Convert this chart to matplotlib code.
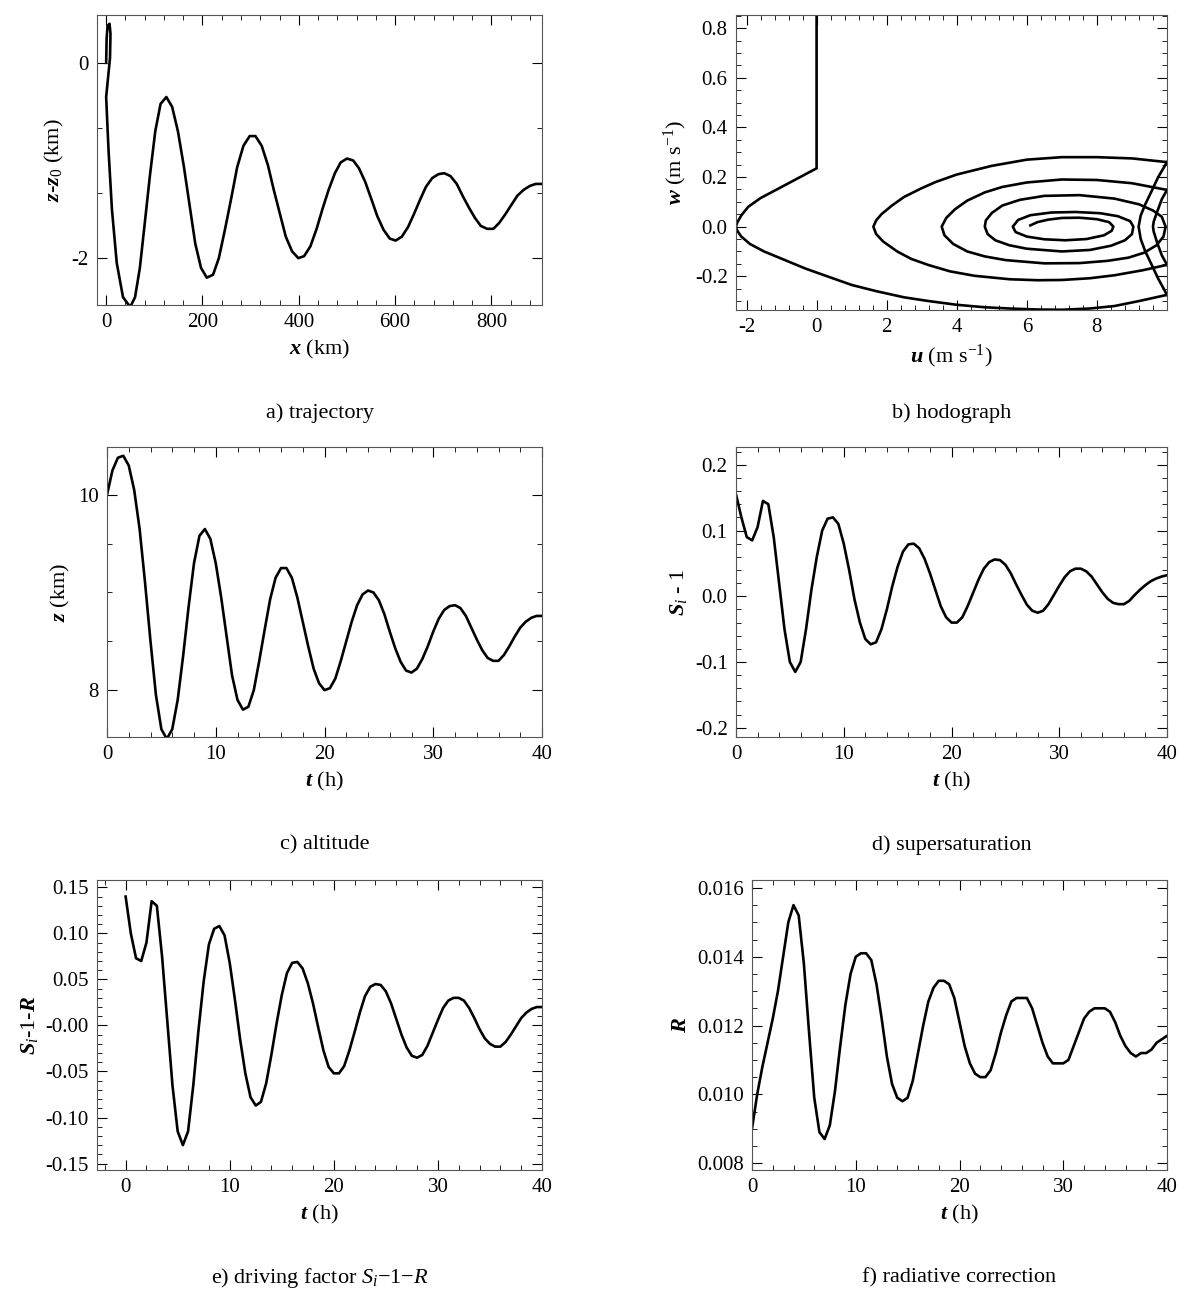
import numpy as np
import matplotlib
matplotlib.use("Agg")
import matplotlib.pyplot as plt
from matplotlib.ticker import FixedLocator, FixedFormatter, AutoMinorLocator

plt.rcParams['font.family'] = 'Liberation Serif'
plt.rcParams['mathtext.fontset'] = 'custom'
plt.rcParams['mathtext.rm'] = 'Liberation Serif'
plt.rcParams['mathtext.it'] = 'Liberation Serif:italic'
plt.rcParams['mathtext.bf'] = 'Liberation Serif:bold'
plt.rcParams['mathtext.bfit'] = 'Liberation Serif:bold:italic'
plt.rcParams['axes.unicode_minus'] = False

# time axis (h), sampled every 0.5 h
t_h = [i * 0.5 for i in range(81)]

# altitude z (km)
z_km = [10.0, 10.25, 10.38, 10.4, 10.3, 10.05, 9.65, 9.1, 8.5, 7.95, 7.6, 7.5, 7.6, 7.9, 8.35, 8.85,
        9.3, 9.58, 9.65, 9.55, 9.3, 8.95, 8.55, 8.15, 7.9, 7.8, 7.83, 8.0, 8.3, 8.62, 8.93, 9.15,
        9.25, 9.25, 9.15, 8.95, 8.7, 8.45, 8.22, 8.07, 8.0, 8.02, 8.12, 8.3, 8.5, 8.7, 8.87, 8.98,
        9.02, 9.0, 8.92, 8.78, 8.6, 8.43, 8.29, 8.2, 8.18, 8.22, 8.32, 8.45, 8.6, 8.73, 8.82, 8.86,
        8.87, 8.84, 8.76, 8.64, 8.52, 8.41, 8.33, 8.3, 8.3, 8.36, 8.45, 8.55, 8.64, 8.7, 8.74, 8.76, 8.76]
z0_km = 10.0

# horizontal distance x (km) at the same times
x_km = [0, 1, 3, 7, 9, 8, 0, 5, 12, 22, 35, 50, 60, 70, 80, 91, 102, 113, 125, 137, 149, 161, 173, 185,
        197, 209, 222, 234, 247, 260, 272, 285, 298, 310, 323, 336, 348, 361, 373, 386, 399, 411, 424,
        437, 449, 462, 475, 487, 500, 513, 525, 538, 551, 563, 576, 589, 601, 614, 627, 639, 652, 664,
        677, 690, 702, 715, 728, 740, 753, 766, 778, 791, 804, 816, 829, 842, 854, 867, 880, 892, 905]

# supersaturation Si - 1
si_m1 = [.155, .12, .09, .085, .105, .145, .14, .09, .02, -.05, -.1, -.115, -.1, -.05, .01, .06, .1, .118,
         .12, .11, .08, .04, -.005, -.04, -.065, -.073, -.07, -.05, -.02, .015, .045, .068, .079, .08,
         .073, .057, .035, .01, -.015, -.032, -.04, -.04, -.032, -.015, .005, .025, .042, .052, .056,
         .055, .048, .035, .018, .002, -.013, -.022, -.025, -.022, -.012, .002, .016, .029, .038, .042,
         .042, .038, .03, .018, .006, -.004, -.01, -.012, -.012, -.007, .002, .01, .017, .023, .027, .03, .032]

# driving factor Si - 1 - R
drive = [.14, .1, .073, .07, .09, .135, .13, .075, .005, -.065, -.115, -.13, -.115, -.065, -.005, .048,
         .088, .105, .108, .098, .068, .028, -.015, -.052, -.078, -.087, -.083, -.063, -.032, .002, .033,
         .057, .068, .069, .062, .046, .024, -.002, -.027, -.045, -.052, -.052, -.044, -.027, -.007, .014,
         .032, .042, .045, .044, .037, .024, .007, -.01, -.024, -.033, -.035, -.032, -.022, -.008, .006,
         .019, .027, .03, .03, .027, .019, .008, -.004, -.014, -.02, -.023, -.023, -.018, -.01, -.001,
         .008, .014, .018, .02, .02]

# radiative correction R
rad_R = [.0090, .0100, .0108, .0115, .0122, .0130, .0140, .0150, .0155, .0152, .0138, .0118, .0099, .0089,
         .0087, .0091, .0101, .0114, .0126, .0135, .0140, .0141, .0141, .0139, .0132, .0122, .0111, .0103,
         .0099, .0098, .0099, .0104, .0112, .0120, .0127, .0131, .0133, .0133, .0132, .0128, .0121, .0114,
         .0109, .0106, .0105, .0105, .0107, .0112, .0118, .0123, .0127, .0128, .0128, .0128, .0125, .0120,
         .0115, .0111, .0109, .0109, .0109, .0110, .0114, .0118, .0122, .0124, .0125, .0125, .0125, .0124,
         .0121, .0117, .0114, .0112, .0111, .0112, .0112, .0113, .0115, .0116, .0117]

# hodograph pieces (u, w) in m/s
hodo_start = [(0, 0.85), (0, 0.235), (-1.0, 0.16), (-1.6, 0.115), (-1.95, 0.08), (-2.15, 0.045),
              (-2.27, 0.015), (-2.3, 0), (-2.27, -0.015), (-2.15, -0.04), (-1.9, -0.07), (-1.5, -0.1),
              (-0.9, -0.135), (-0.3, -0.17), (0.3, -0.2), (1, -0.235), (1.7, -0.26), (2.5, -0.285),
              (3.2, -0.3), (4, -0.315), (4.8, -0.325), (5.5, -0.33), (6.3, -0.334), (7, -0.335),
              (7.8, -0.33), (8.5, -0.32), (9.2, -0.3), (10, -0.275)]
hodo_arc1 = [(10, 0.26), (9.75, 0.2), (9.55, 0.14), (9.38, 0.09), (9.25, 0.045), (9.19, 0),
             (9.25, -0.05), (9.38, -0.1), (9.55, -0.15), (9.75, -0.21), (10, -0.275)]
hodo_loop2 = [(10, 0.26), (9, 0.275), (8, 0.28), (7, 0.28), (6, 0.27), (5, 0.245), (4, 0.21),
              (3.4, 0.18), (3, 0.155), (2.5, 0.12), (2.15, 0.085), (1.85, 0.05), (1.7, 0.025), (1.62, 0),
              (1.7, -0.03), (1.9, -0.06), (2.3, -0.1), (2.7, -0.13), (3.2, -0.155), (3.8, -0.18),
              (4.5, -0.198), (5.5, -0.212), (6.3, -0.216), (7, -0.215), (7.8, -0.208), (8.5, -0.196),
              (9.3, -0.176), (10, -0.154)]
hodo_arc2 = [(10, 0.148), (9.85, 0.11), (9.72, 0.06), (9.62, 0.02), (9.6, 0), (9.62, -0.02),
             (9.72, -0.065), (9.85, -0.115), (10, -0.154)]
hodo_spiral = [(10, 0.148), (9, 0.175), (8, 0.188), (7, 0.19), (6, 0.178), (5.3, 0.16), (4.8, 0.138),
               (4.3, 0.105), (3.95, 0.07), (3.7, 0.035), (3.57, 0), (3.65, -0.035), (3.9, -0.07),
               (4.3, -0.1), (4.8, -0.12), (5.4, -0.135), (6.5, -0.148), (7.5, -0.147), (8.3, -0.138),
               (8.9, -0.125), (9.35, -0.105), (9.7, -0.075), (9.9, -0.04), (9.96, 0), (9.85, 0.04),
               (9.6, 0.065), (9.2, 0.09), (8.5, 0.113), (7.5, 0.127), (6.5, 0.124), (5.8, 0.108),
               (5.3, 0.085), (5.0, 0.055), (4.83, 0.025), (4.8, 0), (4.88, -0.03), (5.1, -0.055),
               (5.5, -0.075), (6, -0.089), (7, -0.1), (7.8, -0.094), (8.4, -0.077), (8.8, -0.055),
               (9.0, -0.03), (9.04, 0), (8.95, 0.022), (8.6, 0.042), (8.1, 0.054), (7.4, 0.059),
               (6.7, 0.057), (6.1, 0.046), (5.75, 0.027), (5.6, 0), (5.68, -0.022), (6.0, -0.04),
               (6.5, -0.051), (7.1, -0.055), (7.7, -0.05), (8.2, -0.035), (8.42, -0.017), (8.47, 0),
               (8.35, 0.018), (8.0, 0.03), (7.5, 0.036), (7.0, 0.035), (6.6, 0.028), (6.3, 0.018),
               (6.1, 0.005)]

FS = 15
W, H = 1200, 1306
fig = plt.figure(figsize=(12, 13.06), dpi=100)


def make_ax(x0, x1, ytop, ybot):
    ax = fig.add_axes([x0 / W, 1 - ybot / H, (x1 - x0) / W, (ybot - ytop) / H])
    ax.tick_params(which='both', direction='in', top=True, right=True, labelsize=FS, pad=6)
    ax.tick_params(which='major', length=7)
    ax.tick_params(which='minor', length=3.5)
    ax.xaxis.set_minor_locator(AutoMinorLocator(5))
    for s in ax.spines.values():
        s.set_color('#555555')
    return ax


def caption(ax, txt, ypix):
    pos = ax.get_position()
    fig.text((pos.x0 + pos.x1) / 2, 1 - ypix / H, txt, ha='center', va='center', fontsize=FS + 1)


def fix_ticks(ax, vals, labels):
    ax.yaxis.set_major_locator(FixedLocator(vals))
    ax.yaxis.set_major_formatter(FixedFormatter(labels))


lw = 1.9
zrel = [z - z0_km for z in z_km]

# a) trajectory
ax = make_ax(97, 542, 15, 305)
ax.plot(x_km, zrel, color='k', lw=lw)
ax.set_xlim(-19, 905)
ax.set_ylim(-2.48, 0.49)
ax.set_xticks([0, 200, 400, 600, 800])
fix_ticks(ax, [-2, 0], ['-2', '0'])
ax.yaxis.set_minor_locator(AutoMinorLocator(3))
ax.set_xlabel(r'$\mathbfit{x}$ (km)', fontsize=FS + 1)
ax.set_ylabel(r'$\mathbfit{z}$-$\mathbfit{z}_0$ (km)', fontsize=FS + 1)
caption(ax, 'a) trajectory', 413)

# b) hodograph
ax = make_ax(736, 1167, 15, 310)
for seg in [hodo_start, hodo_arc1, hodo_loop2, hodo_arc2, hodo_spiral]:
    u, w = zip(*seg)
    ax.plot(u, w, color='k', lw=lw)
ax.set_xlim(-2.3, 10)
ax.set_ylim(-0.336, 0.853)
ax.set_xticks([-2, 0, 2, 4, 6, 8])
fix_ticks(ax, [-0.2, 0.0, 0.2, 0.4, 0.6, 0.8], ['-0.2', '0.0', '0.2', '0.4', '0.6', '0.8'])
ax.yaxis.set_minor_locator(AutoMinorLocator(4))
ax.set_xlabel(r'$\mathbfit{u}$ (m s$^{-1}$)', fontsize=FS + 1)
ax.set_ylabel(r'$\mathbfit{w}$ (m s$^{-1}$)', fontsize=FS + 1)
caption(ax, 'b) hodograph', 413)

tlabel = r'$\mathbfit{t}$ (h)'

# c) altitude
ax = make_ax(107, 542, 447, 737)
ax.plot(t_h, z_km, color='k', lw=lw)
ax.set_xlim(0, 40)
ax.set_ylim(7.52, 10.49)
ax.set_xticks([0, 10, 20, 30, 40])
fix_ticks(ax, [8, 10], ['8', '10'])
ax.yaxis.set_minor_locator(AutoMinorLocator(4))
ax.set_xlabel(tlabel, fontsize=FS + 1)
ax.set_ylabel(r'$\mathbfit{z}$ (km)', fontsize=FS + 1)
caption(ax, 'c) altitude', 845)

# d) supersaturation
ax = make_ax(736, 1167, 447, 737)
ax.plot(t_h, si_m1, color='k', lw=lw)
ax.set_xlim(0, 40)
ax.set_ylim(-0.214, 0.227)
ax.set_xticks([0, 10, 20, 30, 40])
fix_ticks(ax, [-0.2, -0.1, 0.0, 0.1, 0.2], ['-0.2', '-0.1', '0.0', '0.1', '0.2'])
ax.yaxis.set_minor_locator(AutoMinorLocator(5))
ax.set_xlabel(tlabel, fontsize=FS + 1)
ax.set_ylabel(r'$\mathbfit{S}_i$ - 1', fontsize=FS + 1)
caption(ax, 'd) supersaturation', 845)

# e) driving factor
ax = make_ax(97, 542, 880, 1170)
ax.plot(t_h, drive, color='k', lw=lw)
ax.set_xlim(-2.75, 40)
ax.set_ylim(-0.157, 0.158)
ax.set_xticks([0, 10, 20, 30, 40])
fix_ticks(ax, [-0.15, -0.10, -0.05, 0.0, 0.05, 0.10, 0.15],
          ['-0.15', '-0.10', '-0.05', '-0.00', '0.05', '0.10', '0.15'])
ax.yaxis.set_minor_locator(AutoMinorLocator(5))
ax.set_xlabel(tlabel, fontsize=FS + 1)
ax.set_ylabel(r'$\mathbfit{S}_i$-1-$\mathbfit{R}$', fontsize=FS + 1)
caption(ax, r'e) driving factor $S_i$$-$1$-$$R$', 1278)

# f) radiative correction
ax = make_ax(752, 1167, 880, 1170)
ax.plot(t_h, rad_R, color='k', lw=lw)
ax.set_xlim(0, 40)
ax.set_ylim(0.0078, 0.01623)
ax.set_xticks([0, 10, 20, 30, 40])
fix_ticks(ax, [0.008, 0.010, 0.012, 0.014, 0.016], ['0.008', '0.010', '0.012', '0.014', '0.016'])
ax.yaxis.set_minor_locator(AutoMinorLocator(4))
ax.set_xlabel(tlabel, fontsize=FS + 1)
ax.set_ylabel(r'$\mathbfit{R}$', fontsize=FS + 1)
caption(ax, 'f) radiative correction', 1278)

fig.savefig('out.png', dpi=100)
